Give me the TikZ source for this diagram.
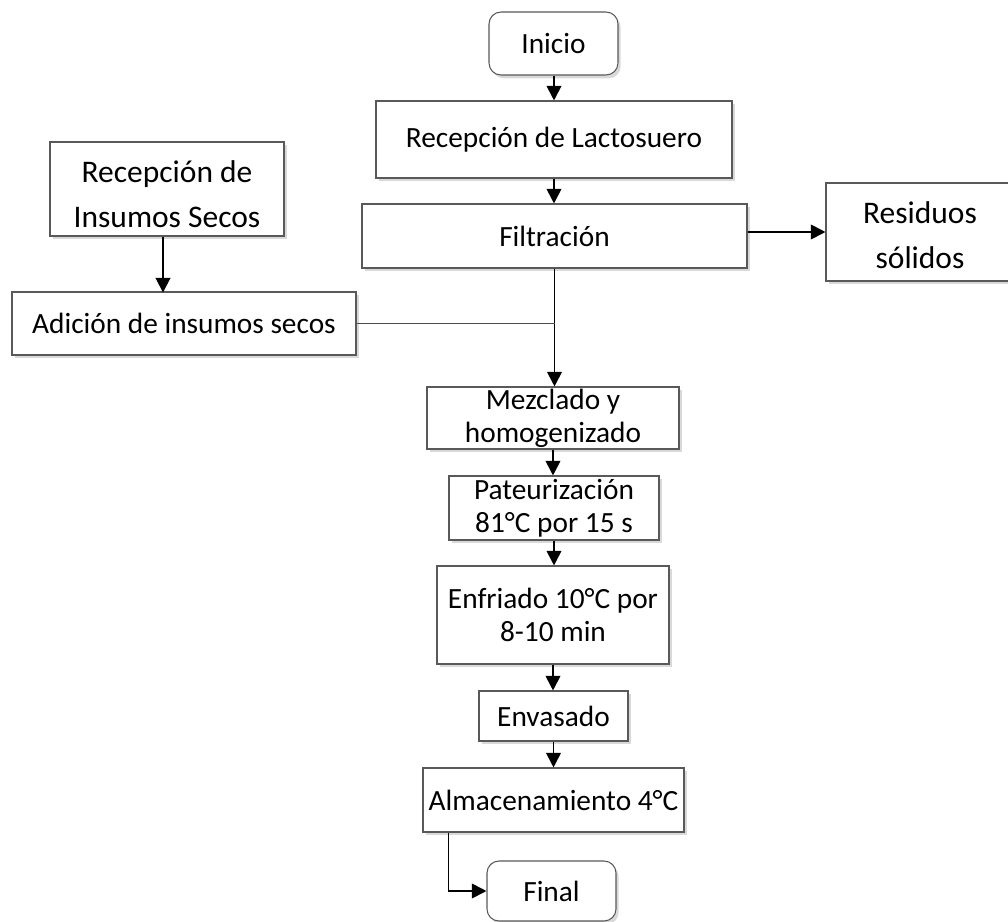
\documentclass[tikz,border=0pt]{standalone}
\usepackage{xcolor}
\usepackage{fontspec}
\setmainfont{Carlito}
\usepackage{tikz}
\usetikzlibrary{arrows.meta,shadows}

\begin{document}
\begin{tikzpicture}[x=0.75pt,y=0.75pt,yscale=-1,xscale=1,
    caja/.style={draw=black!65, line width=0.8pt, fill=white, inner sep=0pt, align=center,
        font=\fontsize{22}{24.75}\selectfont,
        drop shadow={opacity=0.3, shadow xshift=2pt, shadow yshift=-2.5pt}},
    cajagrande/.style={caja, font=\fontsize{23.6}{33.75}\selectfont, text depth=0pt},
    extremo/.style={caja, rounded corners=9pt},
    flecha/.style={draw=black, line width=1.4pt, -{Triangle[length=11pt,width=11pt]}},
    linea/.style={draw=black!70, line width=0.8pt}]
        \useasboundingbox (0,0) rectangle (1008,922);

        % columna principal
        \node [extremo, minimum width=96.75pt, minimum height=47.25pt] (inicio) at (553.5,43.5) {Inicio};
        \node [caja, minimum width=267pt, minimum height=57.75pt] (lacto) at (554,139.5) {Recepción de Lactosuero};
        \node [caja, minimum width=288.75pt, minimum height=48pt] (filtr) at (554.5,236) {Filtración};
        \node [cajagrande, text height=54pt, minimum width=141pt, minimum height=73.5pt] (residuos) at (920,232) {Residuos\\sólidos};
        % rama de insumos secos
        \node [cajagrande, text height=57pt, minimum width=175.5pt, minimum height=70.5pt] (insumos) at (167,189) {Recepción de\\Insumos Secos};
        \node [caja, minimum width=258pt, minimum height=47.25pt] (adicion) at (184,323.5) {Adición de insumos secos};
        \node [caja, minimum width=189pt, minimum height=46.5pt] (mezcla) at (553,418) {Mezclado y\\homogenizado};
        \node [caja, minimum width=157.5pt, minimum height=48pt] (pasteur) at (554,508) {Pateurización\\81°C por 15 s};
        \node [caja, minimum width=174pt, minimum height=73.5pt] (enfri) at (553,615) {Enfriado 10°C por\\8-10 min};
        \node [caja, minimum width=111.75pt, minimum height=37.5pt] (envas) at (553.5,716) {Envasado};
        \node [caja, minimum width=195.75pt, minimum height=48pt] (almac) at (553.5,800) {Almacenamiento 4°C};
        \node [extremo, minimum width=96.75pt, minimum height=45pt] (final) at (551.5,891) {Final};

        \coordinate (junta) at (filtr.south |- adicion.east);

        % conectores
        \draw [flecha] (inicio.south -| lacto.north) -- (lacto.north);
        \draw [flecha] (lacto.south) -- (lacto.south |- filtr.north);
        \draw [flecha] (filtr.east |- residuos.west) -- (residuos.west);
        \draw [flecha] (filtr.south) -- (filtr.south |- mezcla.north);
        \draw [flecha] (insumos.south) ++(-4,0) -- ++(0,56);
        \draw [linea] (adicion.east) -- (junta);
        \draw [flecha] (mezcla.south) -- (mezcla.south |- pasteur.north);
        \draw [flecha] (pasteur.south) -- (pasteur.south |- enfri.north);
        \draw [flecha] (enfri.south) -- (enfri.south |- envas.north);
        \draw [flecha] (envas.south) -- (envas.south |- almac.north);
        \draw [flecha] (almac.south west) ++(26,0) |- (final.west);
    \end{tikzpicture}
\end{document}
